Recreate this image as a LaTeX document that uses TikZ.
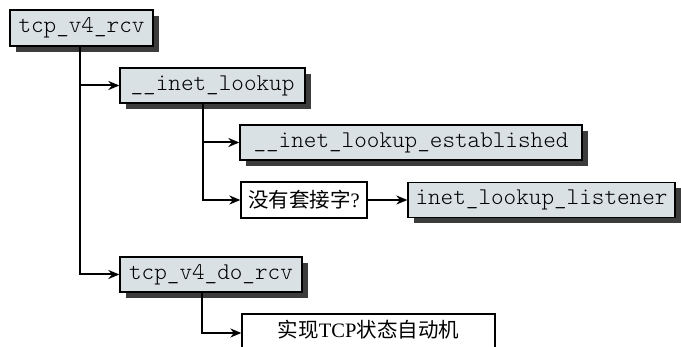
\documentclass[tikz,border=0pt]{standalone}
\usepackage{fontspec}
\setmainfont{Liberation Serif}
\setmonofont{Latin Modern Mono Light}
\newfontfamily\cjk{Noto Sans CJK SC}
\usetikzlibrary{shadows,arrows.meta}
\definecolor{boxfill}{HTML}{D9E1E5}
\definecolor{shadowc}{HTML}{3C3C3C}
\tikzset{
  fnbox/.style={draw=black, line width=1.3pt, fill=boxfill, inner sep=0pt,
    font=\fontsize{24}{27}\selectfont\ttfamily,
    drop shadow={shadow xshift=6pt, shadow yshift=-6pt, fill=shadowc, opacity=1}},
  txtbox/.style={draw=black, line width=1.3pt, fill=white, inner sep=0pt,
    font=\fontsize{20.5}{23}\selectfont},
  conn/.style={line width=2pt, -{Stealth[length=11pt,width=9pt]}}
}
\begin{document}
\begin{tikzpicture}[x=1pt,y=1pt]
\useasboundingbox (0,0) rectangle (681,-347);
\clip (0,0) rectangle (681,-347);
\node[fnbox, minimum width=143pt, minimum height=36pt] (b1) at (81.5,-28) {tcp\_v4\_rcv};
\node[fnbox, minimum width=185pt, minimum height=35pt] (b2) at (212.5,-85.5) {\_\_inet\_lookup};
\node[fnbox, minimum width=342pt, minimum height=35pt] (b3) at (411,-142.5) {\_\_inet\_lookup\_established};
\node[txtbox, minimum width=126pt, minimum height=36pt] (b4) at (304,-200) {{\cjk 没有套接字}?};
\node[fnbox, minimum width=267pt, minimum height=35pt] (b5) at (541.5,-200) {inet\_lookup\_listener};
\node[fnbox, minimum width=182pt, minimum height=35pt] (b6) at (211,-274.5) {tcp\_v4\_do\_rcv};
\node[txtbox, minimum width=253pt, minimum height=40pt, text height=14pt] (b7) at (368.5,-334) {\raisebox{3pt}{{\cjk 实现}TCP{\cjk 状态自动机}}};
\coordinate (v1) at (80,-46);
\coordinate (v2) at (203,-103);
\coordinate (v3) at (202,-292);
\draw[conn] (v1) |- (b2.west);
\draw[conn] (v1) |- (b6.west);
\draw[conn] (v2) |- (b3.west);
\draw[conn] (v2) |- (b4.west);
\draw[conn] (b4.east) -- (b5.west);
\draw[conn] (v3) |- ([yshift=1pt]b7.west);
\end{tikzpicture}
\end{document}
